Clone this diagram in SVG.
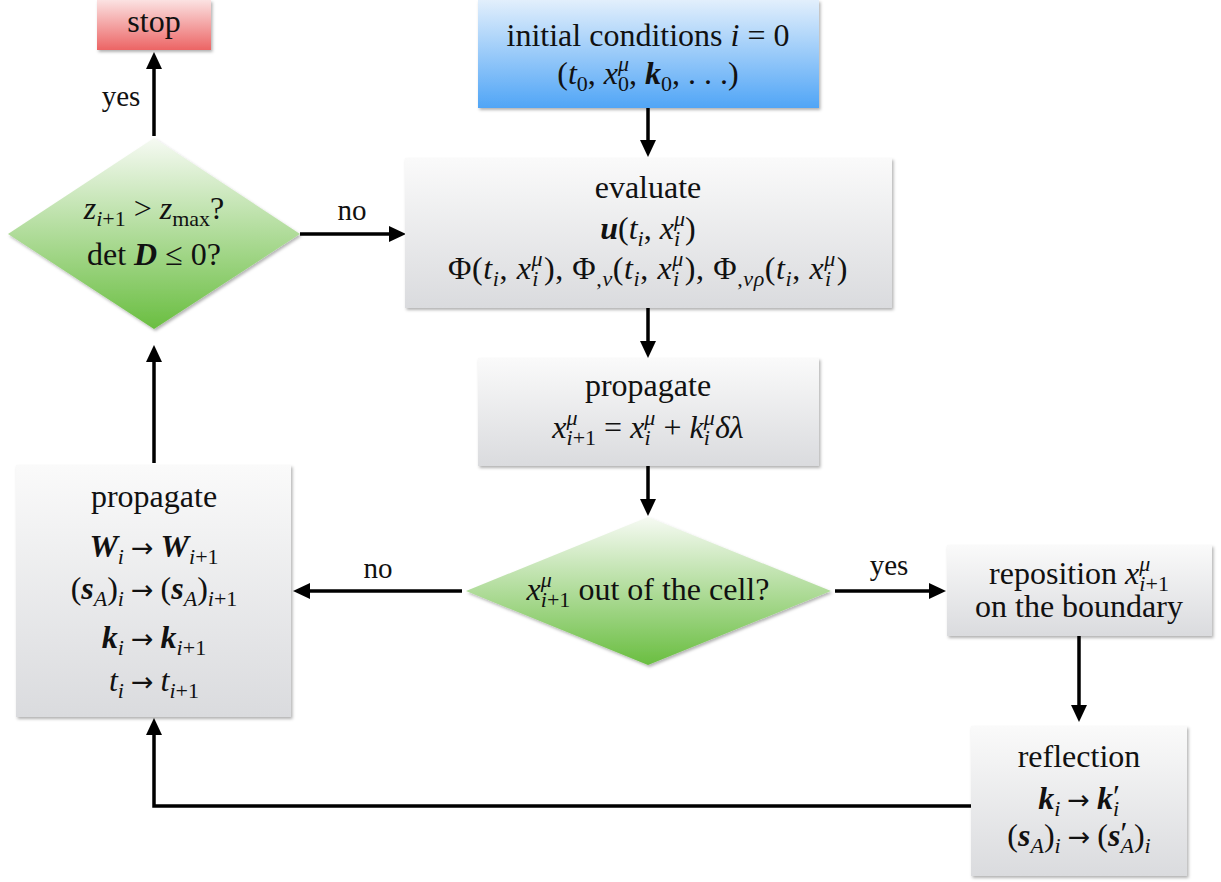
<svg xmlns="http://www.w3.org/2000/svg" width="1221" height="882" viewBox="0 0 1221 882">
<style>
text{font-family:'Liberation Serif','Times New Roman','DejaVu Serif',serif;font-size:32px;fill:#111;text-anchor:middle}
.it{font-style:italic}
.bi{font-style:italic;font-weight:bold}
.s{font-size:22px}
.ar{font-family:'DejaVu Sans',sans-serif;font-size:27px}
.lbl{font-size:29px}
.box{fill:url(#gGray);filter:url(#sh)}
.conn{fill:none;stroke:#000;stroke-width:3.5;marker-end:url(#arr)}
</style>
<defs>
<linearGradient id="gGray" x1="0" y1="0" x2="0" y2="1"><stop offset="0" stop-color="#fafafa"/><stop offset="1" stop-color="#dadbde"/></linearGradient>
<linearGradient id="gBlue" x1="0" y1="0" x2="0" y2="1"><stop offset="0" stop-color="#e2effc"/><stop offset="1" stop-color="#50a5f6"/></linearGradient>
<linearGradient id="gRed" x1="0" y1="0" x2="0" y2="1"><stop offset="0" stop-color="#fbe2e2"/><stop offset="1" stop-color="#ec6565"/></linearGradient>
<linearGradient id="gGreen" x1="0" y1="0" x2="0" y2="1"><stop offset="0" stop-color="#f6faf3"/><stop offset="1" stop-color="#6abe41"/></linearGradient>
<filter id="sh" x="-10%" y="-10%" width="120%" height="130%"><feDropShadow dx="1.5" dy="2" stdDeviation="1.5" flood-color="#000" flood-opacity="0.3"/></filter>
<marker id="arr" markerUnits="userSpaceOnUse" markerWidth="17" markerHeight="17" viewBox="0 0 17 16" refX="1" refY="8" orient="auto" overflow="visible"><path d="M0,0 L17,8 L0,16 z" fill="#000"/></marker>
</defs>

<g id="connectors">
<path class="conn" d="M648,108 V141"/>
<path class="conn" d="M648,308 V342"/>
<path class="conn" d="M648,466 V500"/>
<path class="conn" d="M462,591 H309"/>
<path class="conn" d="M835,591 H930"/>
<path class="conn" d="M1079,636 V706"/>
<path class="conn" d="M971,806 H154 V734"/>
<path class="conn" d="M154,463 V361"/>
<path class="conn" d="M300,234 H390"/>
<path class="conn" d="M154,136 V68"/>
<text class="lbl" x="121" y="106">yes</text>
<text class="lbl" x="352" y="220">no</text>
<text class="lbl" x="378" y="578">no</text>
<text class="lbl" x="889" y="575">yes</text>
</g>

<g id="stop">
<rect x="97" y="0" width="114" height="50" fill="url(#gRed)" filter="url(#sh)"/>
<text x="154" y="32">stop</text>
</g>

<g id="initial">
<rect x="478" y="0" width="341" height="108" fill="url(#gBlue)" filter="url(#sh)"/>
<text x="648" y="46">initial conditions <tspan class="it">i</tspan> = 0</text>
<text x="648" y="84">(<tspan class="it">t</tspan><tspan class="s" dy="7">0</tspan><tspan dy="-7">, </tspan><tspan class="it">x</tspan><tspan class="s it" dy="-13">μ</tspan><tspan class="s" dx="-11" dy="20">0</tspan><tspan dy="-7">, </tspan><tspan class="bi">k</tspan><tspan class="s" dy="7">0</tspan><tspan dy="-7">, . . .)</tspan></text>
</g>

<g id="evaluate">
<rect class="box" x="405" y="158" width="487" height="150"/>
<text x="648" y="198">evaluate</text>
<text x="648" y="239"><tspan class="bi">u</tspan>(<tspan class="it">t</tspan><tspan class="s it" dy="7">i</tspan><tspan dy="-7">, </tspan><tspan class="it">x</tspan><tspan class="s it" dy="-13">μ</tspan><tspan class="s it" dx="-11" dy="20">i</tspan><tspan dx="5" dy="-7">)</tspan></text>
<text x="648" y="279" letter-spacing="0.6">Φ(<tspan class="it">t</tspan><tspan class="s it" dy="7">i</tspan><tspan dy="-7">, </tspan><tspan class="it">x</tspan><tspan class="s it" dy="-13">μ</tspan><tspan class="s it" dx="-11" dy="20">i</tspan><tspan dx="5" dy="-7">), Φ</tspan><tspan class="s" dy="7">,</tspan><tspan class="s it">ν</tspan><tspan dy="-7">(</tspan><tspan class="it">t</tspan><tspan class="s it" dy="7">i</tspan><tspan dy="-7">, </tspan><tspan class="it">x</tspan><tspan class="s it" dy="-13">μ</tspan><tspan class="s it" dx="-11" dy="20">i</tspan><tspan dx="5" dy="-7">), Φ</tspan><tspan class="s" dy="7">,</tspan><tspan class="s it">νρ</tspan><tspan dy="-7">(</tspan><tspan class="it">t</tspan><tspan class="s it" dy="7">i</tspan><tspan dy="-7">, </tspan><tspan class="it">x</tspan><tspan class="s it" dy="-13">μ</tspan><tspan class="s it" dx="-11" dy="20">i</tspan><tspan dx="5" dy="-7">)</tspan></text>
</g>

<g id="propagate1">
<rect class="box" x="478" y="358" width="341" height="108"/>
<text x="648" y="396">propagate</text>
<text x="648" y="438"><tspan class="it">x</tspan><tspan class="s it" dy="-13">μ</tspan><tspan class="s it" dx="-11" dy="20">i</tspan><tspan class="s">+1</tspan><tspan dy="-7"> = </tspan><tspan class="it">x</tspan><tspan class="s it" dy="-13">μ</tspan><tspan class="s it" dx="-11" dy="20">i</tspan><tspan dx="5" dy="-7"> + </tspan><tspan class="it">k</tspan><tspan class="s it" dy="-13">μ</tspan><tspan class="s it" dx="-11" dy="20">i</tspan><tspan class="it" dx="5" dy="-7">δλ</tspan></text>
</g>

<g id="decision-cell">
<polygon points="466,591 648,517 831,591 648,665" fill="url(#gGreen)" filter="url(#sh)"/>
<text x="648" y="600"><tspan class="it">x</tspan><tspan class="s it" dy="-13">μ</tspan><tspan class="s it" dx="-11" dy="20">i</tspan><tspan class="s">+1</tspan><tspan dy="-7"> out of the cell?</tspan></text>
</g>

<g id="reposition">
<rect class="box" x="947" y="545" width="265" height="91"/>
<text x="1079" y="584">reposition <tspan class="it">x</tspan><tspan class="s it" dy="-13">μ</tspan><tspan class="s it" dx="-11" dy="20">i</tspan><tspan class="s">+1</tspan></text>
<text x="1079" y="617">on the boundary</text>
</g>

<g id="reflection">
<rect class="box" x="971" y="726" width="216" height="150"/>
<text x="1079" y="767">reflection</text>
<text x="1079" y="809"><tspan class="bi">k</tspan><tspan class="s it" dy="7">i</tspan><tspan class="ar" dx="7" dy="-7">→</tspan><tspan class="bi" dx="7">k</tspan><tspan dy="-2">′</tspan><tspan class="s it" dx="-7" dy="9">i</tspan></text>
<text x="1079" y="846">(<tspan class="bi">s</tspan><tspan class="s it" dy="7">A</tspan><tspan dy="-7">)</tspan><tspan class="s it" dy="7">i</tspan><tspan class="ar" dx="7" dy="-7">→</tspan><tspan dx="7">(</tspan><tspan class="bi">s</tspan><tspan dy="-2">′</tspan><tspan class="s it" dx="-7" dy="9">A</tspan><tspan dy="-7">)</tspan><tspan class="s it" dy="7">i</tspan></text>
</g>

<g id="propagate2">
<rect class="box" x="16" y="465" width="275" height="252"/>
<text x="154" y="507">propagate</text>
<text x="154" y="557"><tspan class="bi">W</tspan><tspan class="s it" dy="7">i</tspan><tspan class="ar" dx="7" dy="-7">→</tspan><tspan class="bi" dx="7">W</tspan><tspan class="s it" dy="7">i</tspan><tspan class="s">+1</tspan></text>
<text x="154" y="599">(<tspan class="bi">s</tspan><tspan class="s it" dy="7">A</tspan><tspan dy="-7">)</tspan><tspan class="s it" dy="7">i</tspan><tspan class="ar" dx="7" dy="-7">→</tspan><tspan dx="7">(</tspan><tspan class="bi">s</tspan><tspan class="s it" dy="7">A</tspan><tspan dy="-7">)</tspan><tspan class="s it" dy="7">i</tspan><tspan class="s">+1</tspan></text>
<text x="154" y="648"><tspan class="bi">k</tspan><tspan class="s it" dy="7">i</tspan><tspan class="ar" dx="7" dy="-7">→</tspan><tspan class="bi" dx="7">k</tspan><tspan class="s it" dy="7">i</tspan><tspan class="s">+1</tspan></text>
<text x="154" y="691"><tspan class="it">t</tspan><tspan class="s it" dy="7">i</tspan><tspan class="ar" dx="7" dy="-7">→</tspan><tspan class="it" dx="7">t</tspan><tspan class="s it" dy="7">i</tspan><tspan class="s">+1</tspan></text>
</g>

<g id="decision-stop">
<polygon points="8,234 154,138 300,234 154,329" fill="url(#gGreen)" filter="url(#sh)"/>
<text x="154" y="219"><tspan class="it">z</tspan><tspan class="s it" dy="7">i</tspan><tspan class="s">+1</tspan><tspan dy="-7"> &gt; </tspan><tspan class="it">z</tspan><tspan class="s" dy="7">max</tspan><tspan dy="-7">?</tspan></text>
<text x="154" y="265">det <tspan class="bi">D</tspan> ≤ 0?</text>
</g>
</svg>
